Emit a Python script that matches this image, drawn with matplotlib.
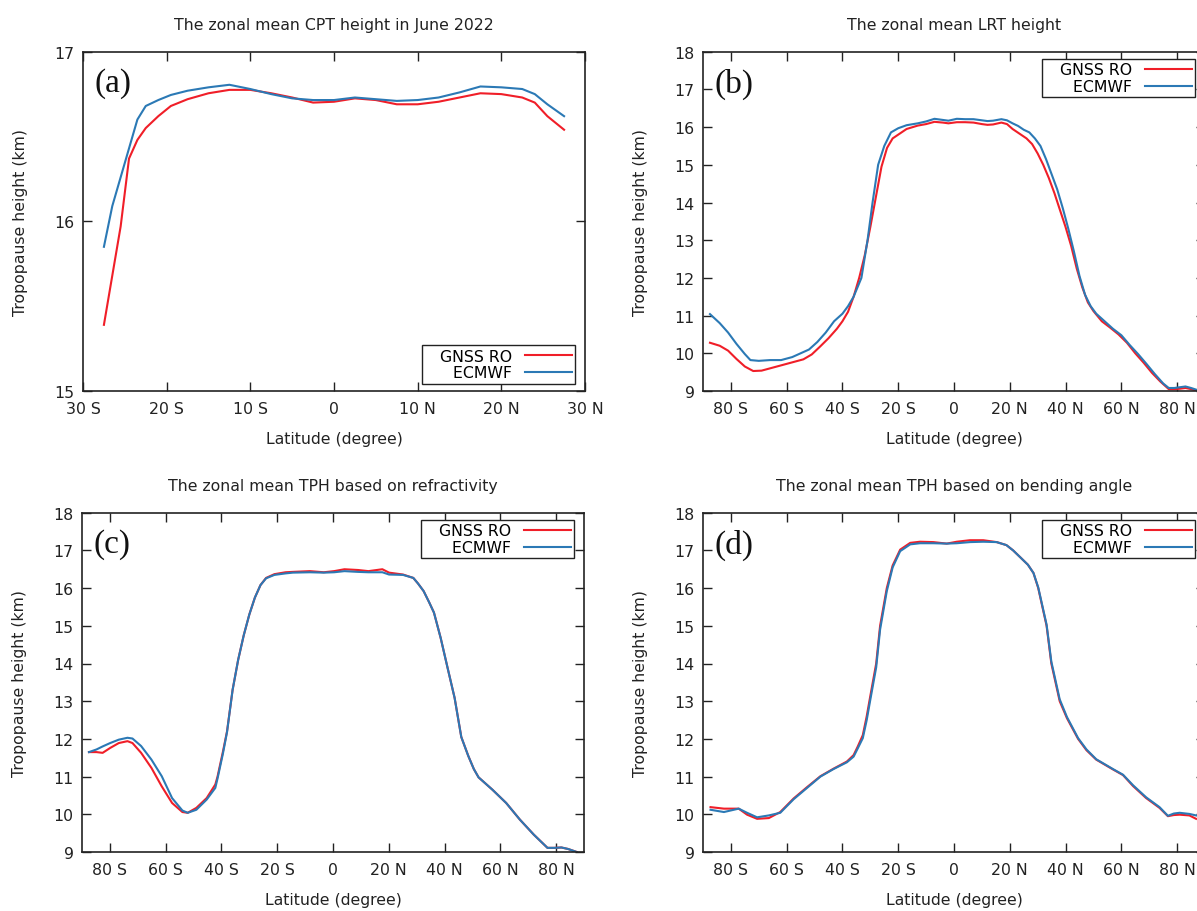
import matplotlib
matplotlib.use('Agg')
import matplotlib.pyplot as plt
from matplotlib.ticker import FixedLocator, FuncFormatter

plt.rcParams['font.family'] = ['DejaVu Sans']

# ---------------- data ----------------
# (a) zonal mean CPT height, June 2022
lat_a = [-27.5, -26.5, -25.5, -24.5, -23.5, -22.5, -21, -19.5, -17.5, -15, -12.5, -10,
         -7.5, -5, -2.5, 0, 2.5, 5, 7.5, 10, 12.5, 15, 17.5, 20, 22.5, 24, 25.5, 27.5]
ro_a = [15.39, 15.68, 15.97, 16.37, 16.48, 16.55, 16.62, 16.68, 16.72, 16.755, 16.775, 16.775,
        16.755, 16.73, 16.70, 16.705, 16.725, 16.715, 16.69, 16.69, 16.705, 16.73, 16.755, 16.75,
        16.73, 16.70, 16.62, 16.54]
ec_a = [15.85, 16.09, 16.26, 16.43, 16.60, 16.68, 16.715, 16.745, 16.77, 16.79, 16.805, 16.78,
        16.75, 16.725, 16.715, 16.715, 16.73, 16.72, 16.71, 16.715, 16.73, 16.76, 16.795, 16.79,
        16.78, 16.75, 16.69, 16.62]

# (b) zonal mean LRT height
lat_b_ro = [-87.5, -84, -81, -78, -75, -72, -69, -66, -62, -58, -54, -51, -48, -45, -42, -40,
            -38, -36, -34, -32, -30, -28, -26, -24, -22, -20, -17, -13, -10, -7, -4, -2, 1, 4,
            7, 10, 12, 14, 17, 19, 21, 23, 26, 28, 30, 32, 34, 36, 38, 40, 42, 44, 46, 48, 50,
            53, 56, 59, 62, 65, 68, 71, 74, 77, 79, 81, 83, 85, 87.5]
ro_b = [10.28, 10.20, 10.07, 9.85, 9.65, 9.53, 9.54, 9.60, 9.68, 9.76, 9.84, 9.97, 10.18,
        10.40, 10.65, 10.85, 11.10, 11.50, 12.00, 12.60, 13.35, 14.15, 14.95, 15.45, 15.70,
        15.80, 15.95, 16.04, 16.08, 16.14, 16.12, 16.10, 16.13, 16.13, 16.12, 16.08, 16.06,
        16.07, 16.12, 16.08, 15.95, 15.85, 15.70, 15.55, 15.30, 15.00, 14.65, 14.25, 13.80,
        13.35, 12.85, 12.25, 11.75, 11.35, 11.12, 10.85, 10.68, 10.50, 10.28, 10.00, 9.75,
        9.48, 9.25, 9.05, 9.05, 9.06, 9.08, 9.05, 9.00]
lat_b_ec = [-87.5, -84, -81, -78, -75, -73, -70, -66, -62, -58, -55, -52, -49, -46, -43, -40,
            -38, -36, -33.2, -31, -29.2, -27.2, -25, -22.6, -20, -17, -13, -10, -7, -4, -2, 1,
            4, 7, 10, 12, 14, 17, 19, 21, 23, 25, 27, 29, 31, 33, 35, 37, 39, 41, 43, 45, 47,
            49, 51, 54, 57, 60, 63, 66, 69, 72, 75, 77, 79, 81, 83, 85, 87.5]
ec_b = [11.04, 10.80, 10.55, 10.25, 9.98, 9.82, 9.80, 9.82, 9.82, 9.90, 10.00, 10.10, 10.30,
        10.55, 10.85, 11.05, 11.25, 11.50, 12.00, 13.00, 14.00, 15.00, 15.50, 15.86, 15.97,
        16.05, 16.10, 16.15, 16.22, 16.19, 16.17, 16.22, 16.21, 16.21, 16.18, 16.16, 16.17,
        16.21, 16.18, 16.10, 16.03, 15.93, 15.86, 15.70, 15.50, 15.15, 14.75, 14.35, 13.85,
        13.30, 12.70, 12.05, 11.55, 11.25, 11.05, 10.85, 10.65, 10.48, 10.22, 9.98, 9.72,
        9.45, 9.20, 9.08, 9.08, 9.10, 9.12, 9.08, 9.02]

# (c) zonal mean TPH based on refractivity
lat_c = [-87.5, -84.8, -82.6, -79.9, -76.8, -73.7, -71.9, -68.8, -65.1, -61.4, -57.7, -54.0,
         -52.1, -49.0, -45.3, -42.2, -41.4, -39.5, -38.0, -36.0, -34.0, -32.0, -30.0, -28.0,
         -26.0, -24.0, -21.0, -17.0, -14.4, -8.3, -3.3, 0.4, 4.1, 9.0, 12.7, 17.7, 20.1, 25.1,
         28.8, 30.5, 32.5, 34.5, 36.2, 38.6, 41.1, 43.6, 46.0, 48.5, 50.5, 52.2, 57.2, 62.1,
         67.0, 72.0, 76.9, 79.4, 81.9, 84.3, 87.4]
ro_c = [11.65, 11.65, 11.63, 11.76, 11.89, 11.94, 11.89, 11.63, 11.23, 10.74, 10.30, 10.06,
        10.04, 10.17, 10.43, 10.79, 11.00, 11.65, 12.20, 13.30, 14.10, 14.75, 15.30, 15.75,
        16.08, 16.27, 16.37, 16.42, 16.43, 16.45, 16.42, 16.45, 16.50, 16.48, 16.45, 16.50,
        16.41, 16.36, 16.27, 16.12, 15.92, 15.62, 15.35, 14.68, 13.88, 13.09, 12.05, 11.55,
        11.20, 10.98, 10.65, 10.30, 9.86, 9.46, 9.11, 9.11, 9.12, 9.08, 9.00]
ec_c = [11.65, 11.72, 11.80, 11.89, 11.98, 12.03, 12.01, 11.81, 11.45, 11.01, 10.43, 10.10,
        10.04, 10.12, 10.39, 10.70, 10.95, 11.60, 12.18, 13.30, 14.10, 14.75, 15.30, 15.75,
        16.08, 16.26, 16.35, 16.39, 16.41, 16.42, 16.41, 16.42, 16.45, 16.43, 16.42, 16.42,
        16.36, 16.35, 16.27, 16.12, 15.92, 15.62, 15.35, 14.68, 13.88, 13.09, 12.05, 11.55,
        11.20, 10.98, 10.65, 10.30, 9.86, 9.46, 9.11, 9.11, 9.12, 9.08, 9.00]

# (d) zonal mean TPH based on bending angle
lat_d = [-87.3, -82.5, -77.2, -74.2, -70.6, -66.4, -62.3, -57.5, -52.7, -47.9, -43.2, -38.4,
         -36.0, -34.5, -32.7, -31.3, -30.1, -27.9, -26.5, -24.1, -22.0, -19.3, -15.7, -12.2,
         -7.4, -2.6, 1.0, 5.7, 10.5, 15.3, 18.8, 21.2, 24.0, 26.5, 28.5, 30.2, 33.2, 34.9,
         37.9, 40.5, 44.5, 47.5, 51.0, 57.0, 60.6, 64.2, 68.9, 73.7, 76.7, 78.8, 80.9, 84.4,
         86.8]
ro_d = [10.19, 10.15, 10.15, 9.99, 9.88, 9.90, 10.06, 10.42, 10.72, 11.01, 11.21, 11.40,
        11.57, 11.80, 12.10, 12.60, 13.10, 14.00, 15.00, 16.00, 16.60, 17.02, 17.20, 17.23,
        17.22, 17.18, 17.23, 17.27, 17.27, 17.22, 17.14, 17.00, 16.80, 16.62, 16.40, 16.00,
        15.00, 14.00, 13.00, 12.55, 12.00, 11.70, 11.45, 11.19, 11.04, 10.75, 10.43, 10.17,
        9.95, 9.98, 9.99, 9.97, 9.88]
ec_d = [10.12, 10.06, 10.15, 10.04, 9.92, 9.97, 10.04, 10.40, 10.70, 11.00, 11.20, 11.38,
        11.53, 11.75, 12.02, 12.50, 13.00, 13.90, 14.90, 15.92, 16.55, 16.98, 17.16, 17.19,
        17.19, 17.18, 17.19, 17.22, 17.23, 17.22, 17.14, 17.00, 16.80, 16.62, 16.40, 16.02,
        15.03, 14.05, 13.05, 12.58, 12.02, 11.72, 11.46, 11.20, 11.05, 10.77, 10.45, 10.19,
        9.96, 10.02, 10.04, 10.01, 9.97]

titles = ["The zonal mean CPT height in June 2022",
          "The zonal mean LRT height",
          "The zonal mean TPH based on refractivity",
          "The zonal mean TPH based on bending angle"]
panel_labels = ["(a)", "(b)", "(c)", "(d)"]
series_names = ["GNSS RO", "ECMWF"]

# ---------------- styling ----------------
RED = '#f01e28'
BLUE = '#2b79b5'
FS = 11.3

fig = plt.figure(figsize=(11.97, 9.12), dpi=100)
FW, FH = 1197.0, 912.0
W = 502 / FW
H = 339.3 / FH
positions = [
    [83 / FW, 1 - 392 / FH, W, H],
    [703 / FW, 1 - 392 / FH, W, H],
    [82 / FW, 1 - 853 / FH, W, H],
    [703 / FW, 1 - 853 / FH, W, H],
]


def lat_fmt(v, pos=None):
    v = int(round(v))
    if v < 0:
        return f"{-v} S"
    if v > 0:
        return f"{v} N"
    return "0"


panels = [
    (lat_a, ro_a, lat_a, ec_a, (-30, 30), list(range(-30, 31, 10)), (15, 17), [15, 16, 17], 'lower right'),
    (lat_b_ro, ro_b, lat_b_ec, ec_b, (-90, 90), list(range(-80, 81, 20)), (9, 18), list(range(9, 19)), 'upper right'),
    (lat_c, ro_c, lat_c, ec_c, (-90, 90), list(range(-80, 81, 20)), (9, 18), list(range(9, 19)), 'upper right'),
    (lat_d, ro_d, lat_d, ec_d, (-90, 90), list(range(-80, 81, 20)), (9, 18), list(range(9, 19)), 'upper right'),
]

for i, (xr, yr, xe, ye, xlim, xt, ylim, yt, loc) in enumerate(panels):
    ax = fig.add_axes(positions[i])
    ax.plot(xr, yr, color=RED, lw=1.5, label="   " + series_names[0], solid_joinstyle='round')
    ax.plot(xe, ye, color=BLUE, lw=1.5, label="   " + series_names[1], solid_joinstyle='round')
    ax.set_xlim(*xlim)
    ax.set_ylim(*ylim)
    ax.xaxis.set_major_locator(FixedLocator(xt))
    ax.xaxis.set_major_formatter(FuncFormatter(lat_fmt))
    ax.yaxis.set_major_locator(FixedLocator(yt))
    ax.tick_params(direction='in', top=True, right=True, length=6.5, width=1.0,
                   labelsize=FS, colors='#222222')
    ax.tick_params(axis='x', pad=7)
    ax.tick_params(axis='y', pad=6)
    for s in ax.spines.values():
        s.set_linewidth(1.2)
        s.set_color('#222222')
    ax.set_xlabel("Latitude (degree)", fontsize=FS, color='#222222')
    ax.set_ylabel("Tropopause height (km)", fontsize=FS, color='#222222')
    ax.xaxis.set_label_coords(0.5, -0.118)
    ax.yaxis.set_label_coords(-0.11, 0.5)
    ax.text(0.5, 1.08, titles[i], transform=ax.transAxes, ha='center', va='center',
            fontsize=FS, color='#222222')
    ax.text(0.022, 0.908, panel_labels[i], transform=ax.transAxes, ha='left', va='center',
            fontsize=24, family='Liberation Serif', color='#111111')
    if loc == 'lower right':
        anchor = (0.98, 0.022)
    else:
        anchor = (0.98, 0.978)
    leg = ax.legend(loc=loc, bbox_to_anchor=anchor, markerfirst=False, fontsize=FS,
                    frameon=True, fancybox=False, framealpha=1, edgecolor='#222222',
                    handlelength=3.0, handletextpad=0.8, borderpad=0.2,
                    labelspacing=0.12, borderaxespad=0.0)
    leg.get_frame().set_linewidth(1.0)

fig.savefig('out.png', dpi=100)
